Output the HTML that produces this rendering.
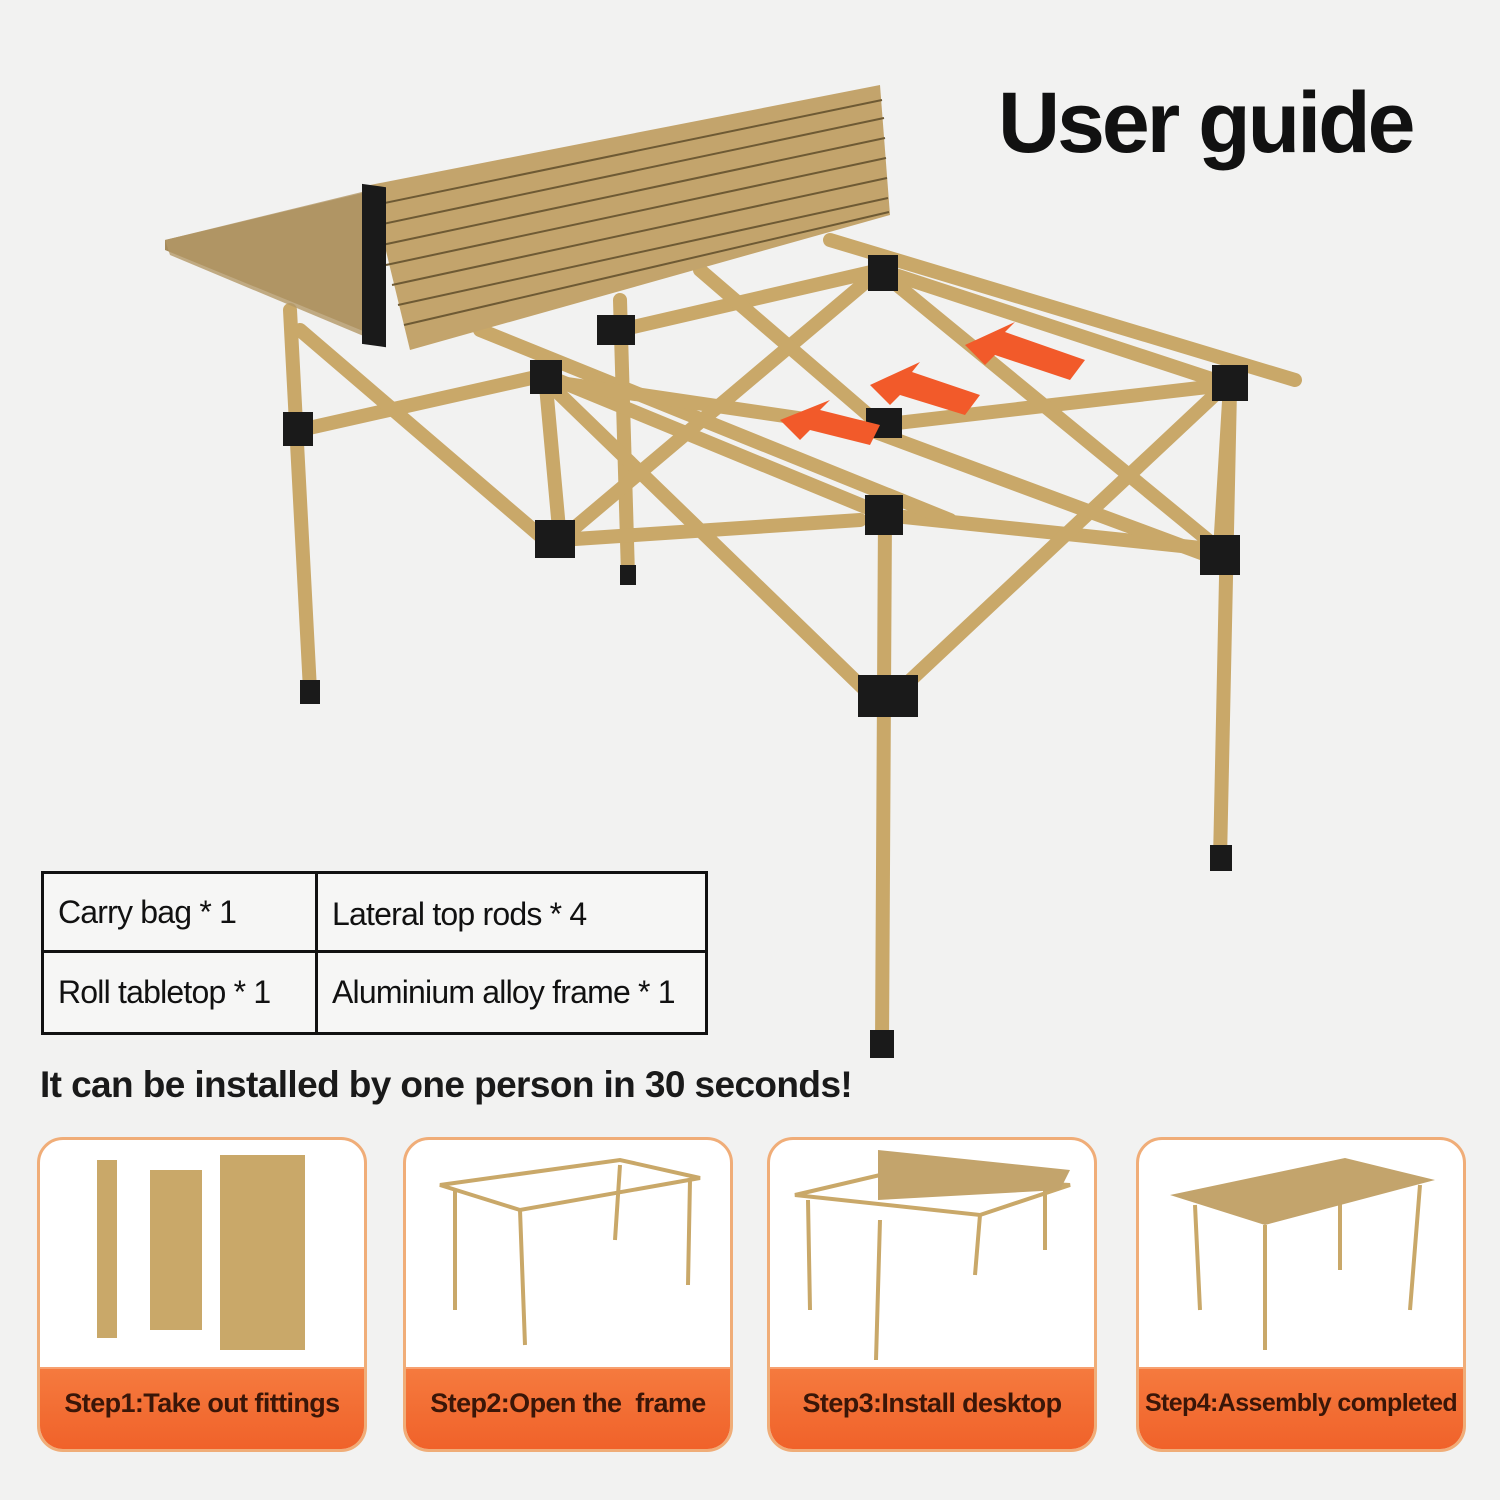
<!DOCTYPE html>
<html><head><meta charset="utf-8"><style>
body{margin:0;width:1500px;height:1500px;background:#f2f2f1;position:relative;overflow:hidden;font-family:"Liberation Sans",sans-serif}
.t{position:absolute;color:#111}
.card{position:absolute;top:1137px;width:324px;height:309px;border:3px solid #f0ad78;border-radius:26px;background:#fff;overflow:hidden}
.card .b{position:absolute;left:0;right:0;bottom:0;height:80px;background:linear-gradient(#f57a3e,#f0622a);border-top:2px solid #f7a070;color:#3a1608;font-size:27px;font-weight:bold;text-align:center;line-height:68px;letter-spacing:-0.6px}
svg{position:absolute;left:0;top:0}
</style></head><body>
<svg width="1500" height="1500" viewBox="0 0 1500 1500">
<g stroke="#c9a869" stroke-width="14" stroke-linecap="round" fill="none">
<line x1="290" y1="310" x2="310" y2="690"/>
<line x1="620" y1="300" x2="628" y2="575"/>
<line x1="885" y1="515" x2="882" y2="1045"/>
<line x1="1230" y1="390" x2="1220" y2="860"/>
<line x1="300" y1="430" x2="545" y2="375"/>
<line x1="545" y1="375" x2="885" y2="515"/>
<line x1="885" y1="515" x2="1220" y2="550"/>
<line x1="1220" y1="550" x2="1230" y2="385"/>
<line x1="830" y1="240" x2="1295" y2="380"/>
<line x1="480" y1="330" x2="950" y2="520"/>
<line x1="560" y1="540" x2="860" y2="520"/>
<line x1="620" y1="330" x2="880" y2="270"/>
<line x1="880" y1="270" x2="1230" y2="385"/>
<line x1="540" y1="380" x2="880" y2="430"/>
<line x1="880" y1="425" x2="1225" y2="385"/>
<line x1="300" y1="330" x2="545" y2="540"/>
<line x1="545" y1="375" x2="560" y2="540"/>
<line x1="545" y1="380" x2="865" y2="690"/>
<line x1="560" y1="540" x2="880" y2="270"/>
<line x1="900" y1="690" x2="1220" y2="390"/>
<line x1="885" y1="275" x2="1220" y2="550"/>
<line x1="700" y1="270" x2="880" y2="425"/>
<line x1="870" y1="430" x2="1220" y2="560"/>
</g>
<g fill="#1a1a1a">
<rect x="283" y="412" width="30" height="34"/><rect x="530" y="360" width="32" height="34"/>
<rect x="535" y="520" width="40" height="38"/><rect x="865" y="495" width="38" height="40"/>
<rect x="858" y="675" width="60" height="42"/><rect x="1200" y="535" width="40" height="40"/>
<rect x="1212" y="365" width="36" height="36"/><rect x="868" y="255" width="30" height="36"/>
<rect x="597" y="315" width="38" height="30"/><rect x="866" y="408" width="36" height="30"/>
<rect x="300" y="680" width="20" height="24"/><rect x="620" y="565" width="16" height="20"/>
<rect x="870" y="1030" width="24" height="28"/><rect x="1210" y="845" width="22" height="26"/>
</g>
<polygon points="165,240 375,190 385,340 165,250" fill="#a58a5a"/>
<polygon points="165,240 370,190 385,345 170,255" fill="#b39766" opacity=".8"/>
<polygon points="370,185 880,85 890,215 410,350" fill="#c3a46c"/>
<g stroke="#6e5a34" stroke-width="2">
<line x1="375" y1="205" x2="882" y2="100"/><line x1="378" y1="225" x2="884" y2="118"/>
<line x1="382" y1="245" x2="885" y2="138"/><line x1="386" y1="265" x2="886" y2="158"/>
<line x1="392" y1="285" x2="887" y2="178"/><line x1="398" y1="305" x2="888" y2="198"/>
<line x1="404" y1="325" x2="889" y2="212"/>
</g>
<rect x="362" y="185" width="24" height="160" fill="#1a1a1a" transform="skewY(8)" transform-origin="370 185"/>
<g fill="#f25a2a">
<polygon points="780,420 830,400 820,410 880,425 870,445 810,430 800,440"/>
<polygon points="870,385 920,362 912,372 980,395 965,415 900,395 890,405"/>
<polygon points="965,345 1015,322 1005,332 1085,360 1070,380 995,355 985,365"/>
</g>
</svg>
<div class="t" style="left:998px;top:74px;font-size:86px;font-weight:bold;letter-spacing:-3px">User guide</div>
<div style="position:absolute;left:41px;top:871px;width:661px;height:158px;border:3px solid #111;background:#f6f6f5"></div>
<div style="position:absolute;left:44px;top:950px;width:661px;height:3px;background:#111"></div>
<div style="position:absolute;left:315px;top:871px;width:3px;height:162px;background:#111"></div>
<div class="t" style="left:58px;top:894px;font-size:32px;letter-spacing:-0.8px">Carry bag * 1</div>
<div class="t" style="left:332px;top:896px;font-size:32px;letter-spacing:-0.8px">Lateral top rods * 4</div>
<div class="t" style="left:58px;top:974px;font-size:32px;letter-spacing:-0.8px">Roll tabletop * 1</div>
<div class="t" style="left:332px;top:974px;font-size:32px;letter-spacing:-0.8px">Aluminium alloy frame * 1</div>
<div class="t" style="left:40px;top:1064px;font-size:37px;font-weight:bold;letter-spacing:-0.6px;color:#1a1a1a">It can be installed by one person in 30 seconds!</div>
<div class="card" style="left:37px"><div class="b">Step1:Take out fittings</div></div>
<div class="card" style="left:403px"><div class="b">Step2:Open the&nbsp; frame</div></div>
<div class="card" style="left:767px"><div class="b">Step3:Install desktop</div></div>
<div class="card" style="left:1136px"><div class="b" style="font-size:25px">Step4:Assembly completed</div></div>
<svg width="1500" height="1500" viewBox="0 0 1500 1500">
<g fill="#c9a869">
<rect x="97" y="1160" width="20" height="178"/><rect x="150" y="1170" width="52" height="160"/><rect x="220" y="1155" width="85" height="195"/>
</g>
<g stroke="#c9a869" stroke-width="4" fill="none">
<path d="M440,1185 L620,1160 L700,1178 L520,1210 Z M455,1190 L455,1310 M520,1210 L525,1345 M690,1180 L688,1285 M620,1165 L615,1240"/>
<path d="M795,1195 L880,1175 L1070,1185 L980,1215 Z M808,1200 L810,1310 M880,1220 L876,1360 M980,1215 L975,1275 M1045,1190 L1045,1250"/>
<path d="M1195,1205 L1200,1310 M1265,1225 L1265,1350 M1420,1185 L1410,1310 M1340,1200 L1340,1270"/>
</g>
<polygon points="878,1150 1070,1170 1060,1190 878,1200" fill="#c3a46c"/>
<polygon points="1170,1195 1345,1158 1435,1180 1265,1225" fill="#c3a46c"/>
</svg>
</body></html>
